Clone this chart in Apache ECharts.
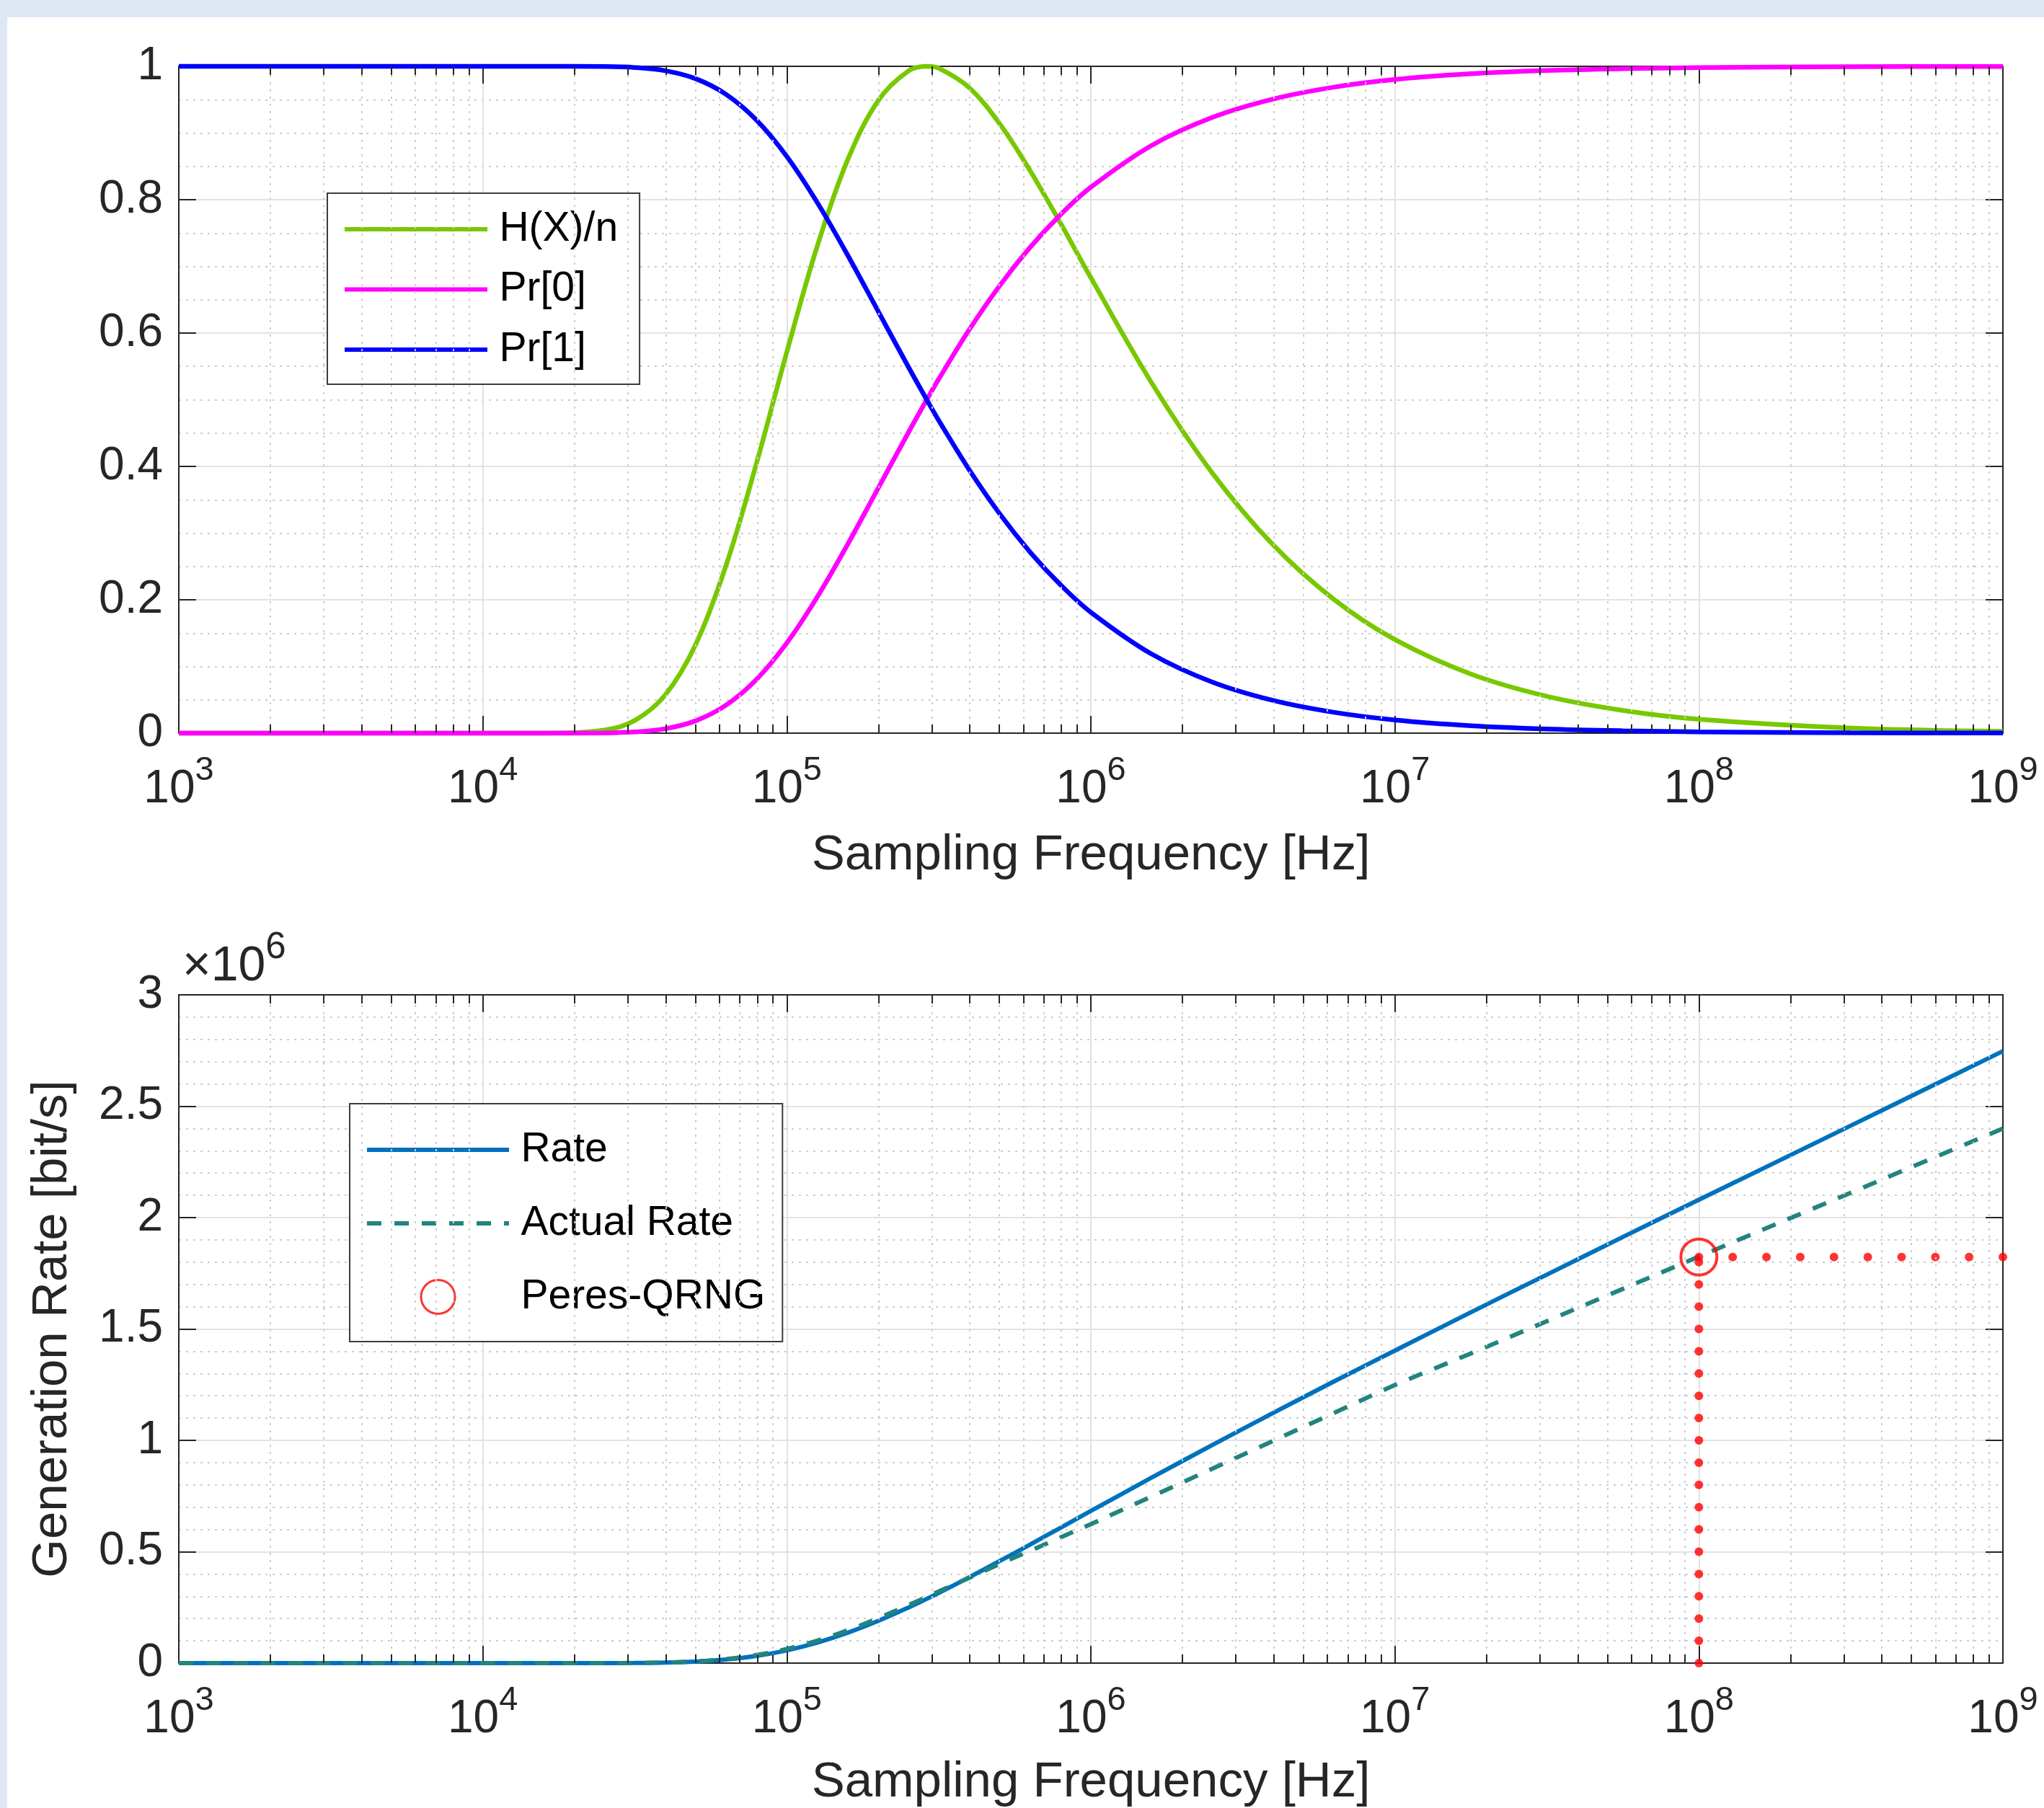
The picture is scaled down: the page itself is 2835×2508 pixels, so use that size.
<!DOCTYPE html>
<html>
<head>
<meta charset="utf-8">
<script src="https://cdn.jsdelivr.net/npm/echarts@6/dist/echarts.min.js"></script>
<style>
html,body{margin:0;padding:0;background:#ffffff;}
#chart{width:2835px;height:2508px;}
</style>
</head>
<body>
<div id="chart"></div>
<script>
// ---------------- DATA ----------------
const freqHz = [1e3, 1e4, 15849, 25119, 31623, 39811, 50119, 63096, 79433, 1e5,
  125893, 158489, 199526, 251189, 288403, 316228, 398107, 501187, 630957, 794328,
  1e6, 1584893, 2511886, 3981072, 6309573, 1e7, 17782794, 31622777, 56234133, 1e8,
  316227766, 1e9];
const entropyPerBit = [0, 0, 0.00007, 0.0045, 0.0190, 0.0572, 0.1329, 0.2515, 0.4044, 0.5718,
  0.7302, 0.8596, 0.9483, 0.9931, 1.0000, 0.9971, 0.9679, 0.9139, 0.8437, 0.7649,
  0.6830, 0.5253, 0.3898, 0.2821, 0.2004, 0.1403, 0.0886, 0.0552, 0.0340, 0.0208,
  0.00763, 0.00275];
const prZero = [0, 0, 0.0000033, 0.00035, 0.00179, 0.00658, 0.0185, 0.0420, 0.0806, 0.1353,
  0.2042, 0.2831, 0.3670, 0.4510, 0.4998, 0.5313, 0.6051, 0.6710, 0.7284, 0.7774,
  0.8187, 0.8814, 0.9235, 0.9510, 0.9688, 0.9802, 0.9888, 0.9937, 0.9964, 0.9980,
  0.99937, 0.9998];
const prOne = [1, 1, 0.9999967, 0.99965, 0.99821, 0.99342, 0.9815, 0.9580, 0.9194, 0.8647,
  0.7958, 0.7169, 0.6330, 0.5490, 0.5002, 0.4687, 0.3949, 0.3290, 0.2716, 0.2226,
  0.1813, 0.1186, 0.0765, 0.0490, 0.0312, 0.0198, 0.0112, 0.0063, 0.0036, 0.0020,
  0.00063, 0.0002];
const rateBps = [0, 0, 1, 113, 601, 2277, 6661, 15869, 32123, 57180,
  91927, 136237, 189210, 249456, 288400, 315311, 385328, 458035, 532338, 607590,
  683000, 832600, 979200, 1123100, 1264500, 1403000, 1575000, 1744000, 1913000, 2080000,
  2413000, 2747000];
const actualRateBps = [0, 0, 1, 130, 700, 2700, 7800, 18200, 36200, 63500,
  100500, 147000, 201000, 260500, 297000, 322000, 383000, 445000, 504000, 564000,
  624000, 748000, 873000, 998000, 1123000, 1248000, 1390000, 1535000, 1680000, 1825000,
  2112000, 2400000];
const peresFreq = 1e8;
const peresRate = 1823000;
const guideVerticalY = [0, 100000, 200000, 300000, 400000, 500000, 600000, 700000, 800000, 900000,
  1000000, 1100000, 1200000, 1300000, 1400000, 1500000, 1600000, 1700000, 1800000];
const guideHorizontalX = [1e8, 129154967, 166810054, 215443469, 278255940, 359381366,
  464158883, 599484250, 774263683, 1e9];
const decadeStarts = [1e3, 1e4, 1e5, 1e6, 1e7, 1e8];
const minorMultipliers = [2, 3, 4, 5, 6, 7, 8, 9];
const topLegendNames = ['H(X)/n', 'Pr[0]', 'Pr[1]'];
const bottomLegendNames = ['Rate', 'Actual Rate', 'Peres-QRNG'];
const xAxisTitle = 'Sampling Frequency [Hz]';
const yAxisTitleBottom = 'Generation Rate [bit/s]';

// ---------------- STYLE ----------------
const FF = '"Liberation Sans", Arial, Helvetica, sans-serif';
const AXIS = '#262626';
const MAJOR = '#e2e2e2';
const MINOR = '#cdcdcd';
const BAND = '#dde8f4';
const TOP_H = 925, BOT_H = 927;
const TICK_PX = 12;

const richAxis = {
  b: {fontSize: 64, fontFamily: FF, color: AXIS, verticalAlign: 'middle'},
  s: {fontSize: 47, fontFamily: FF, color: AXIS, verticalAlign: 'top', padding: [0, 0, 52, 0]}
};
function xLabelFmt(v) {
  const e = v >= 100 ? Math.round(Math.log10(v)) : Math.round(v);
  return '{b|10}{s|' + e + '}';
}

function xAxisDef(grid, pos, main, nameGap) {
  return {
    type: 'log', logBase: 10, min: 1e3, max: 1e9, gridIndex: grid, position: pos,
    axisLine: {show: true, onZero: false, lineStyle: {color: AXIS, width: 2}},
    axisTick: {show: true, inside: true, length: 24, lineStyle: {color: AXIS, width: 2}},
    axisLabel: {show: main, margin: 29, formatter: xLabelFmt, rich: richAxis},
    splitLine: {show: main, lineStyle: {color: MAJOR, width: 2}},
    name: main ? xAxisTitle : '', nameLocation: 'middle', nameGap: nameGap,
    nameTextStyle: {fontSize: 69, fontFamily: FF, color: AXIS}
  };
}
function yAxisDef(grid, pos, main, max, interval, minorSplit, fmt, name) {
  return {
    type: 'value', min: 0, max: max, interval: interval, gridIndex: grid, position: pos,
    axisLine: {show: true, onZero: false, lineStyle: {color: AXIS, width: 2}},
    axisTick: {show: true, inside: true, length: 24, lineStyle: {color: AXIS, width: 2}},
    axisLabel: {show: main, margin: 22, fontSize: 64, fontFamily: FF, color: AXIS, formatter: fmt},
    splitLine: {show: main, lineStyle: {color: MAJOR, width: 2}},
    minorTick: {show: false, splitNumber: minorSplit},
    minorSplitLine: {show: main, lineStyle: {color: MINOR, width: 2, type: [3, 7]}},
    name: name || '', nameLocation: 'middle', nameGap: 141,
    nameTextStyle: {fontSize: 69, fontFamily: FF, color: AXIS}
  };
}

function minorGrid(yMax) {
  const out = [];
  decadeStarts.forEach(d => minorMultipliers.forEach(m => {
    out.push([{coord: [d * m, 0]}, {coord: [d * m, yMax]}]);
  }));
  return out;
}
function minorTicks(yMax, plotH) {
  const len = TICK_PX / plotH * yMax;
  const out = [];
  decadeStarts.forEach(d => minorMultipliers.forEach(m => {
    out.push([{coord: [d * m, 0]}, {coord: [d * m, len]}]);
    out.push([{coord: [d * m, yMax]}, {coord: [d * m, yMax - len]}]);
  }));
  return out;
}
function helper(xi, yi, lines, style) {
  return {
    type: 'line', xAxisIndex: xi, yAxisIndex: yi, data: [], symbol: 'none', z: 1, silent: true,
    markLine: {silent: true, symbol: ['none', 'none'], label: {show: false}, animation: false,
      lineStyle: style, emphasis: {disabled: true}, data: lines}
  };
}
function pairs(xs, ys) { return xs.map((x, i) => [x, ys[i]]); }
function curve(name, xi, yi, ys, color, width, type) {
  return {
    name: name, type: 'line', xAxisIndex: xi, yAxisIndex: yi, data: pairs(freqHz, ys),
    symbol: 'none', smooth: 0.35, clip: false, z: 3,
    lineStyle: {color: color, width: width, type: type || 'solid'},
    itemStyle: {color: color}
  };
}
function lineLegendItem(name) {
  return {name: name,
    itemStyle: {opacity: 0, color: 'rgba(0,0,0,0)', borderColor: 'rgba(0,0,0,0)', borderWidth: 0},
    lineStyle: {width: 6}};
}

const guideDots = guideVerticalY.map(y => [peresFreq, y])
  .concat(guideHorizontalX.map(x => [x, peresRate]));

const legendText = {fontSize: 57, lineHeight: 58, fontFamily: FF, color: '#000000'};

const chart = echarts.init(document.getElementById('chart'), null, {renderer: 'canvas'});
chart.setOption({
  animation: false,
  backgroundColor: '#ffffff',
  grid: [
    {left: 248, top: 92, width: 2530, height: TOP_H, outerBoundsMode: 'none', containLabel: false},
    {left: 248, top: 1380, width: 2530, height: BOT_H, outerBoundsMode: 'none', containLabel: false}
  ],
  xAxis: [
    xAxisDef(0, 'bottom', true, 135),
    xAxisDef(0, 'top', false, 0),
    xAxisDef(1, 'bottom', true, 131),
    xAxisDef(1, 'top', false, 0)
  ],
  yAxis: [
    yAxisDef(0, 'left', true, 1, 0.2, 4, null, ''),
    yAxisDef(0, 'right', false, 1, 0.2, 4, null, ''),
    yAxisDef(1, 'left', true, 3e6, 5e5, 5, v => String(+(v / 1e6).toFixed(2)), yAxisTitleBottom),
    yAxisDef(1, 'right', false, 3e6, 5e5, 5, null, '')
  ],
  legend: [
    {
      data: topLegendNames.map(lineLegendItem), orient: 'vertical', left: 454, top: 268,
      itemWidth: 198, itemHeight: 47, itemGap: 25.5, padding: [21, 30, 19, 21],
      backgroundColor: '#ffffff', borderColor: '#3c3c3c', borderWidth: 2, borderRadius: 0,
      formatter: n => '\u2009' + n, selectedMode: false,
      lineStyle: {width: 6},
      textStyle: legendText
    },
    {
      data: [lineLegendItem(bottomLegendNames[0]), lineLegendItem(bottomLegendNames[1]),
        {name: bottomLegendNames[2], itemStyle: {borderWidth: 3}}],
      orient: 'vertical', left: 485, top: 1531,
      itemWidth: 197, itemHeight: 47, itemGap: 44, padding: [35, 24, 33, 21],
      backgroundColor: '#ffffff', borderColor: '#3c3c3c', borderWidth: 2, borderRadius: 0,
      formatter: n => '\u2009' + n, selectedMode: false,
      lineStyle: {width: 6},
      textStyle: legendText
    }
  ],
  graphic: [
    {type: 'rect', silent: true, shape: {x: 0, y: 0, width: 2835, height: 24}, style: {fill: BAND}},
    {type: 'rect', silent: true, shape: {x: 0, y: 0, width: 10, height: 2508}, style: {fill: BAND}},
    {type: 'text', silent: true, x: 253, y: 1289, style: {
      text: '{b|\u00d710}{s|6}', align: 'left', verticalAlign: 'top',
      rich: {
        b: {fontSize: 68, fontFamily: FF, fill: AXIS, verticalAlign: 'middle'},
        s: {fontSize: 51, fontFamily: FF, fill: AXIS, verticalAlign: 'top', padding: [0, 0, 53, 0]}
      }
    }}
  ],
  series: [
    helper(0, 0, minorGrid(1), {color: MINOR, width: 2, type: [3, 7]}),
    helper(0, 0, minorTicks(1, TOP_H), {color: AXIS, width: 2, type: 'solid'}),
    curve('H(X)/n', 0, 0, entropyPerBit, '#78c800', 6.5),
    curve('Pr[0]', 0, 0, prZero, '#ff00ff', 6.5),
    curve('Pr[1]', 0, 0, prOne, '#0000ff', 6.5),

    helper(2, 2, minorGrid(3e6), {color: MINOR, width: 2, type: [3, 7]}),
    helper(2, 2, minorTicks(3e6, BOT_H), {color: AXIS, width: 2, type: 'solid'}),
    curve('Rate', 2, 2, rateBps, '#0072bd', 6),
    curve('Actual Rate', 2, 2, actualRateBps, '#22847e', 6, [20, 18]),
    {
      name: 'guides', type: 'scatter', xAxisIndex: 2, yAxisIndex: 2, data: guideDots,
      symbol: 'circle', symbolSize: 12, clip: false, z: 4, silent: true,
      itemStyle: {color: '#ff0000'}
    },
    {
      name: 'Peres-QRNG', type: 'scatter', xAxisIndex: 2, yAxisIndex: 2,
      data: [[peresFreq, peresRate]], symbol: 'circle', symbolSize: 50, clip: false, z: 5,
      itemStyle: {color: 'rgba(255,0,0,0)', borderColor: '#ff0000', borderWidth: 4}
    }
  ]
});
</script>
</body>
</html>
